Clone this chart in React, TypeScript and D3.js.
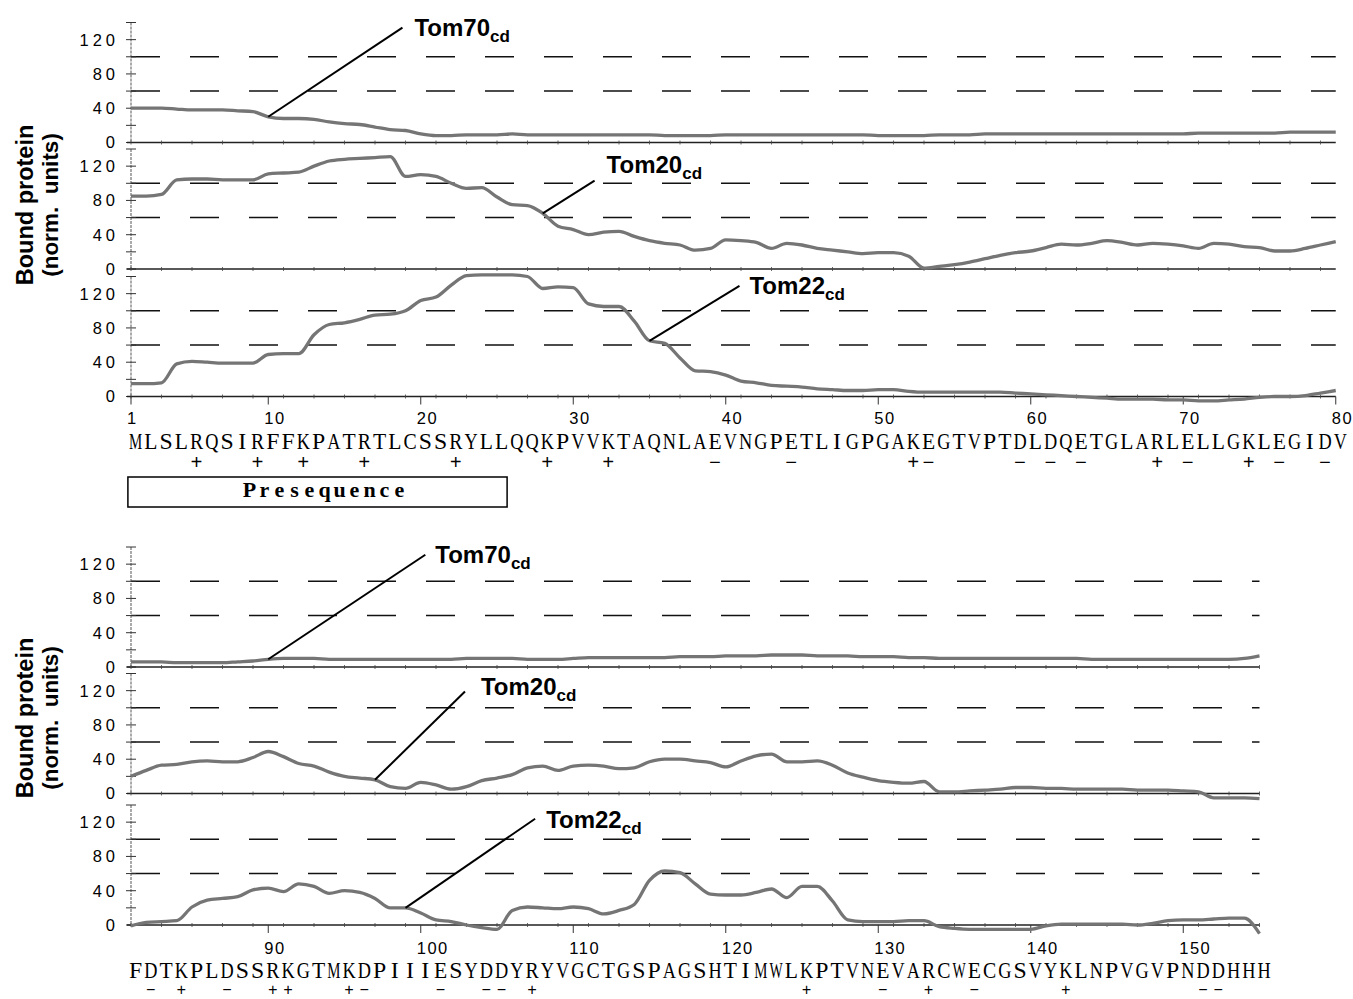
import React from 'react';
import * as d3 from 'd3';

// sequence (one letter per residue)
const topSequence = 'MLSLRQSIRFFKPATRTLCSSRYLLQQKPVVKTAQNLAEVNGPETLIGPGAKEGTVPTDLDQETGLARLELLGKLEGIDV';
const bottomSequence = 'FDTKPLDSSRKGTMKDPIIIESYDDYRYVGCTGSPAGSHTIMWLKPTVNEVARCWECGSVYKLNPVGVPNDDHHH';

// bound protein, residues 1-80
const tom70Top = [
  40, 40, 40, 39, 38, 38, 38, 37, 36, 30, 28, 28, 27, 24, 22, 21, 18, 15, 14, 10,
  8, 8, 9, 9, 9, 10, 9, 9, 9, 9, 9, 9, 9, 9, 9, 8, 8, 8, 8, 9,
  9, 9, 9, 9, 9, 9, 9, 9, 9, 8, 8, 8, 8, 9, 9, 9, 10, 10, 10, 10,
  10, 10, 10, 10, 10, 10, 10, 10, 10, 10, 11, 11, 11, 11, 11, 11, 12, 12, 12, 12,
];
const tom20Top = [
  85, 85, 87, 104, 105, 105, 104, 104, 104, 111, 112, 113, 120, 126, 128, 129, 130, 131, 108, 110,
  108, 100, 94, 95, 84, 75, 74, 65, 50, 46, 40, 43, 44, 38, 33, 30, 28, 22, 24, 34,
  33, 31, 24, 30, 28, 24, 22, 20, 18, 19, 19, 15, 1, 3, 5, 8, 12, 16, 19, 21,
  25, 29, 28, 30, 33, 31, 28, 30, 29, 27, 24, 30, 29, 26, 25, 21, 21, 24, 28, 32,
];
const tom22Top = [
  15, 15, 16, 38, 41, 40, 39, 39, 39, 49, 50, 50, 72, 84, 86, 90, 95, 96, 100, 112,
  116, 130, 141, 142, 142, 142, 140, 126, 128, 127, 108, 105, 105, 88, 65, 62, 45, 30, 29, 25,
  18, 16, 13, 12, 11, 9, 8, 7, 7, 8, 8, 6, 5, 5, 5, 5, 5, 5, 4, 3,
  2, 1, 0, -1, -2, -3, -3, -3, -4, -4, -5, -5, -4, -3, -1, 0, 0, 1, 4, 7,
];

// bound protein, residues 81-155
const tom70Bottom = [
  6, 6, 6, 5, 5, 5, 5, 6, 7, 9, 10, 10, 10, 9, 9, 9, 9, 9, 9, 9,
  9, 9, 10, 10, 10, 10, 9, 9, 9, 10, 11, 11, 11, 11, 11, 11, 12, 12, 12, 13,
  13, 13, 14, 14, 14, 13, 13, 13, 12, 12, 12, 11, 11, 10, 10, 10, 10, 10, 10, 10,
  10, 10, 10, 9, 9, 9, 9, 9, 9, 9, 9, 9, 9, 10, 13,
];
const tom20Bottom = [
  20, 27, 33, 34, 37, 38, 37, 37, 42, 49, 43, 35, 32, 25, 20, 18, 16, 8, 6, 13,
  10, 5, 8, 15, 18, 22, 30, 32, 27, 32, 33, 32, 29, 30, 37, 40, 40, 38, 36, 31,
  38, 44, 46, 37, 37, 38, 33, 24, 19, 15, 13, 12, 14, 2, 2, 3, 4, 5, 7, 7,
  6, 6, 5, 5, 5, 5, 4, 4, 4, 3, 2, -5, -5, -5, -6,
];
const tom22Bottom = [
  -1, 3, 4, 5, 21, 29, 31, 33, 41, 43, 39, 48, 45, 37, 40, 38, 31, 20, 20, 14,
  6, 4, 0, -3, -5, 17, 21, 20, 19, 21, 19, 13, 17, 24, 52, 63, 61, 48, 36, 35,
  35, 38, 42, 32, 45, 45, 28, 6, 4, 4, 4, 5, 5, -2, -4, -5, -5, -5, -5, -5,
  -1, 1, 1, 1, 1, 1, 0, 2, 5, 6, 6, 7, 8, 8, -10,
];

const xTicksTop = [1, 10, 20, 30, 40, 50, 60, 70, 80];
const xTicksBottom = [90, 100, 110, 120, 130, 140, 150];
const yTickLabels = [0, 40, 80, 120];
const yTickMarks = [0, 20, 40, 60, 80, 100, 120, 140];
const dashedLevels = [60, 100];
const presequence = [1, 25];
const presequenceLabel = 'Presequence';

// callouts: residue the leader starts at, where it ends (residue, value)
const callouts = [
  { fig: 0, panel: 0, name: 'Tom70', at: 10, endRes: 18.8, endVal: 134, dx: 12, dy: 8 },
  { fig: 0, panel: 1, name: 'Tom20', at: 28, endRes: 31.4, endVal: 103, dx: 12, dy: -8 },
  { fig: 0, panel: 2, name: 'Tom22', at: 35, endRes: 40.9, endVal: 129, dx: 10, dy: 8 },
  { fig: 1, panel: 0, name: 'Tom70', at: 90, endRes: 100.3, endVal: 131, dx: 10, dy: 8 },
  { fig: 1, panel: 1, name: 'Tom20', at: 97, endRes: 102.9, endVal: 119, dx: 16, dy: 3 },
  { fig: 1, panel: 2, name: 'Tom22', at: 99, endRes: 107.5, endVal: 124, dx: 11, dy: 9 },
];

const figures = [
  {
    start: 1,
    sequence: topSequence,
    series: [tom70Top, tom20Top, tom22Top],
    baselines: [142.5, 269, 396.5],
    xTicks: xTicksTop,
    tickLabelY: 424,
    seqY: 449,
    chargeY: 469,
    chargeSize: 20,
    titleY: 205,
  },
  {
    start: 81,
    sequence: bottomSequence,
    series: [tom70Bottom, tom20Bottom, tom22Bottom],
    baselines: [667, 793.5, 925],
    xTicks: xTicksBottom,
    tickLabelY: 953.5,
    seqY: 978,
    chargeY: 995,
    chargeSize: 16,
    titleY: 718,
  },
];

const SANS = '"Liberation Sans", Arial, Helvetica, sans-serif';
const SERIF = '"Liberation Serif", "Times New Roman", serif';
const MONO = '"Liberation Mono", "Courier New", monospace';

// approximate Times advance widths (em) so each letter can be squeezed into a fixed cell
const serifWidths: Record<string, number> = {
  A: 0.722, C: 0.667, D: 0.722, E: 0.611, F: 0.556, G: 0.722, H: 0.722, I: 0.333, K: 0.722,
  L: 0.611, M: 0.889, N: 0.722, P: 0.556, Q: 0.722, R: 0.667, S: 0.556, T: 0.611, V: 0.722,
  W: 0.944, Y: 0.722,
};
const SEQ_SIZE = 24;
const CELL = 13.2;
const squeeze = (ch: string) => Math.min(1, CELL / ((serifWidths[ch] || 0.6) * SEQ_SIZE));

const charge = (aa: string) => (aa === 'R' || aa === 'K' ? '+' : aa === 'D' || aa === 'E' ? '\u2212' : '');

const Figure = ({ fig, index }: { fig: any; index: number }) => {
  const n = fig.sequence.length;
  const end = fig.start + n - 1;
  const x = d3.scaleLinear().domain([fig.start, fig.start + 79]).range([131, 1335.75]);
  const residues = d3.range(fig.start, end + 1);
  const letterX = (r: number) => x(r) + 4.5;

  return (
    <g>
      {fig.series.map((values: number[], p: number) => {
        const base = fig.baselines[p];
        const y = d3.scaleLinear().domain([0, 140]).range([base, base - 120]);
        const line = d3
          .line<number>()
          .x((_, i) => x(fig.start + i))
          .y((d) => y(d))
          .curve(d3.curveMonotoneX);
        const isLast = p === fig.series.length - 1;
        return (
          <g key={p}>
            {/* dashed reference levels */}
            {dashedLevels.map((v) => (
              <line
                key={v}
                x1={x(fig.start)}
                x2={x(end)}
                y1={y(v)}
                y2={y(v)}
                stroke="#111"
                strokeWidth={1.6}
                strokeDasharray="29 30"
              />
            ))}
            {/* y axis */}
            <line x1={131} x2={131} y1={y(140)} y2={y(0)} stroke="#555" strokeWidth={1} strokeDasharray="3 1" />
            {yTickMarks.map((t) => (
              <line key={t} x1={126} x2={136} y1={y(t)} y2={y(t)} stroke="#333" strokeWidth={1} />
            ))}
            {yTickLabels.map((t) => (
              <text
                key={t}
                x={119}
                y={y(t)}
                dy="0.36em"
                textAnchor="end"
                fontFamily={SANS}
                fontSize={16.5}
                letterSpacing={4}
                fill="#000"
              >
                {t}
              </text>
            ))}
            {/* baseline with small ticks */}
            <line x1={127} x2={x(end)} y1={y(0)} y2={y(0)} stroke="#222" strokeWidth={1.3} />
            {residues
              .filter((r) => (r - fig.start) % 2 === 0)
              .map((r) => (
                <line key={r} x1={x(r)} x2={x(r)} y1={y(0) - 2} y2={y(0) + 2} stroke="#444" strokeWidth={0.8} />
              ))}
            {isLast &&
              fig.xTicks.map((t: number) => (
                <line key={t} x1={x(t)} x2={x(t)} y1={y(0)} y2={y(0) + 8} stroke="#333" strokeWidth={1} />
              ))}
            <path d={line(values) || ''} fill="none" stroke="#757575" strokeWidth={3.3} strokeLinejoin="round" />
          </g>
        );
      })}

      {/* x tick labels */}
      {fig.xTicks.map((t: number) => (
        <text
          key={t}
          x={x(t) - 4}
          y={fig.tickLabelY}
          fontFamily={SANS}
          fontSize={16.5}
          letterSpacing={1.5}
          fill="#000"
        >
          {t}
        </text>
      ))}

      {/* sequence and charges */}
      {residues.map((r, i) => {
        const aa = fig.sequence[i];
        return (
          <g key={r}>
            <text
              transform={`translate(${letterX(r)},${fig.seqY}) scale(${squeeze(aa)},1)`}
              textAnchor="middle"
              fontFamily={SERIF}
              fontSize={SEQ_SIZE}
              fill="#000"
            >
              {aa}
            </text>
            {charge(aa) && (
              <text
                x={letterX(r)}
                y={fig.chargeY}
                textAnchor="middle"
                fontFamily={MONO}
                fontSize={fig.chargeSize}
                fill="#000"
              >
                {charge(aa)}
              </text>
            )}
          </g>
        );
      })}

      {/* y axis title */}
      <g fontFamily={SANS} fontWeight="bold" fill="#000" textAnchor="middle">
        <text transform={`translate(33,${fig.titleY}) rotate(-90)`} fontSize={23.5}>
          Bound protein
        </text>
        <text transform={`translate(58,${fig.titleY}) rotate(-90)`} fontSize={22.5} style={{ whiteSpace: 'pre' }}>
          {'(norm.  units)'}
        </text>
      </g>

      {index === 0 && (
        <g>
          <rect
            x={letterX(presequence[0]) - 7.6}
            y={477}
            width={letterX(presequence[1]) + 7.6 - (letterX(presequence[0]) - 7.6) - 2}
            height={30}
            fill="none"
            stroke="#000"
            strokeWidth={1.5}
          />
          {presequenceLabel.split('').map((ch, i) => (
            <text
              key={i}
              x={249.5 + i * 15}
              y={497}
              textAnchor="middle"
              fontFamily={SERIF}
              fontWeight="bold"
              fontSize={22}
              fill="#000"
            >
              {ch}
            </text>
          ))}
        </g>
      )}

      {/* callouts */}
      {callouts
        .filter((c) => c.fig === index)
        .map((c) => {
          const base = fig.baselines[c.panel];
          const y = d3.scaleLinear().domain([0, 140]).range([base, base - 120]);
          const v = fig.series[c.panel][c.at - fig.start];
          const ex = x(c.endRes);
          const ey = y(c.endVal);
          return (
            <g key={c.name}>
              <line x1={x(c.at)} y1={y(v)} x2={ex} y2={ey} stroke="#000" strokeWidth={2} />
              <text x={ex + c.dx} y={ey + c.dy} fontFamily={SANS} fontWeight="bold" fontSize={24} fill="#000">
                {c.name}
                <tspan fontSize={17} dy={6}>
                  cd
                </tspan>
              </text>
            </g>
          );
        })}
    </g>
  );
};

export default function App() {
  return (
    <svg
      width={1353}
      height={999}
      viewBox="0 0 1353 999"
      style={{ position: 'absolute', left: 0, top: 0, background: '#fff' }}
    >
      <rect width={1353} height={999} fill="#fff" />
      {figures.map((fig, i) => (
        <Figure key={i} fig={fig} index={i} />
      ))}
    </svg>
  );
}
